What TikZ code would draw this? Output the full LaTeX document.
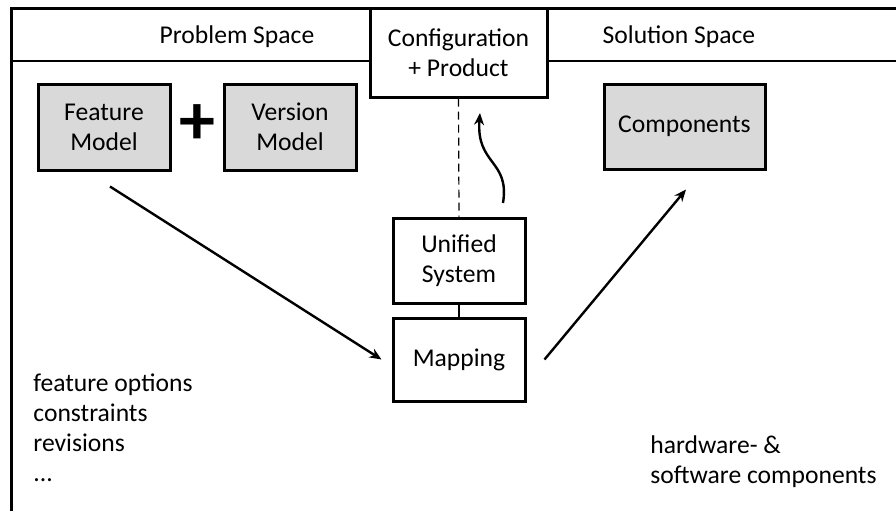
\documentclass[tikz,border=0pt]{standalone}
\usepackage{fontspec}
\setmainfont{Carlito}
\usetikzlibrary{arrows.meta}
\begin{document}
\begin{tikzpicture}[x=0.5pt, y=-0.5pt, >={Stealth[length=6pt,width=5pt]},
    txt/.style={font=\fontsize{12.8}{15}\selectfont},
    box/.style={txt, draw, line width=1.5pt, align=center, inner sep=0pt,
        minimum width=66pt, minimum height=43pt},
    model/.style={box, fill=gray!30},
    arr/.style={->, line width=1.2pt}]
    \useasboundingbox (0,0) rectangle (896,511);

    % frame and headers
    \draw[line width=1.5pt] (11,511) -- (11,8) -- (896,8);
    \draw[line width=1pt] (11,61) -- (370,61);
    \draw[line width=1pt] (547,61) -- (896,61);
    \node[txt] (prob) at (237,37) {Problem Space};
    \node[txt] (sol) at (679,37) {Solution Space};

    \node[box, minimum width=88.5pt, minimum height=44.5pt] (config) at (458.5,52.5)
        {Configuration\\+ Product};

    % problem space
    \node[model] (feature) at (104,127) {Feature\\Model};
    \node[model] (version) at (290,127) {Version\\Model};
    \node[font=\fontsize{36}{36}\selectfont\bfseries] (plus) at (197,125) {+};

    % solution space
    \node[model, minimum width=80.5pt, minimum height=42.5pt] (comp) at (684.5,126.5) {Components};

    % middle
    \node[box, minimum height=42.5pt] (unified) at (459,260.5) {Unified\\System};
    \node[box, minimum height=41.5pt] (mapping) at (459,359.5) {Mapping};
    \draw[dash pattern=on 4pt off 2.5pt, line width=0.6pt] (config.south) -- (unified.north);
    \draw[line width=0.6pt] (unified.south) -- (mapping.north);

    \draw[arr] ([shift={(6,15)}]feature.south) -- ([xshift=-5pt]mapping.west);
    \draw[arr] ([xshift=9pt]mapping.east) -- ([shift={(1.5,19)}]comp.south);

    \coordinate (cstart) at (503,203);
    \coordinate (cend) at (480,113);
    \draw[arr] (cstart) .. controls (510,160) and (476,165) .. (cend);

    % notes
    \node[txt, align=left, anchor=north west, inner sep=0pt] (pnotes) at (33,373)
        {feature options\\constraints\\revisions\\...};
    \node[txt, align=left, anchor=north west, inner sep=0pt] (snotes) at (650,435)
        {hardware- \&\\software components};
\end{tikzpicture}
\end{document}
